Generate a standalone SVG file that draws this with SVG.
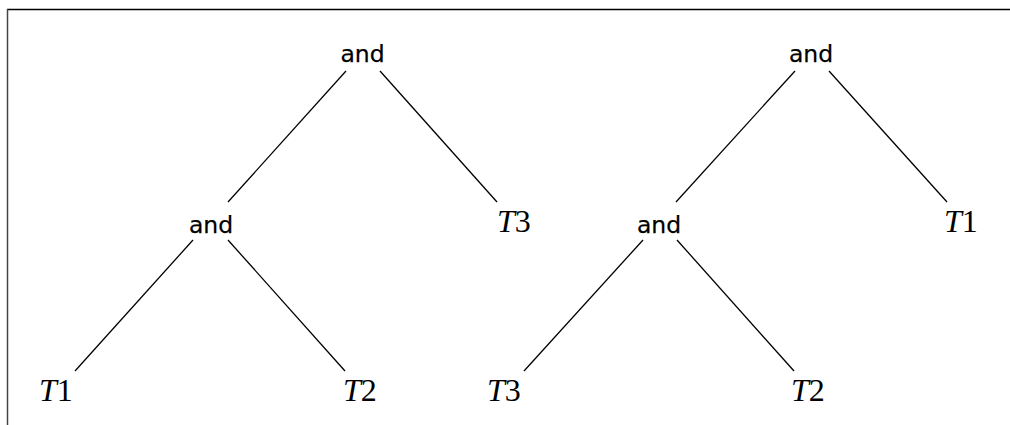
<svg xmlns="http://www.w3.org/2000/svg" width="1010" height="425" viewBox="0 0 1010 425">
<style>
.op{font-family:"DejaVu Sans","Liberation Sans",sans-serif;font-size:23.5px;text-anchor:middle;fill:#000;stroke:#000;stroke-width:0.25}
.leaf{font-family:"Liberation Serif","Times New Roman",serif;font-size:32px;fill:#000}
.edge{stroke:#000;stroke-width:1.3;fill:none}
</style>
<rect width="1010" height="425" fill="#fff"/>
<g id="frame">
<line x1="7" y1="9.5" x2="1010" y2="9.5" stroke="#000" stroke-width="1.5"/>
<line x1="7.5" y1="9" x2="7.5" y2="425" stroke="#444" stroke-width="1.5"/>
</g>
<g id="connectors">
<line class="edge" x1="346" y1="71" x2="228" y2="202"/>
<line class="edge" x1="380" y1="71" x2="497" y2="202"/>
<line class="edge" x1="193" y1="240" x2="75" y2="371"/>
<line class="edge" x1="228" y1="240" x2="345" y2="371"/>
<line class="edge" x1="795" y1="71" x2="676" y2="202"/>
<line class="edge" x1="829" y1="71" x2="947" y2="202"/>
<line class="edge" x1="643" y1="240" x2="524" y2="371"/>
<line class="edge" x1="677" y1="240" x2="794" y2="371"/>
</g>
<g id="and1"><text class="op" x="362.5" y="62">and</text></g>
<g id="and2"><text class="op" x="211" y="233">and</text></g>
<g id="T3a"><text class="leaf" x="497" y="232"><tspan font-style="italic">T</tspan>3</text></g>
<g id="T1a"><text class="leaf" x="39" y="401"><tspan font-style="italic">T</tspan>1</text></g>
<g id="T2a"><text class="leaf" x="343" y="401"><tspan font-style="italic">T</tspan>2</text></g>
<g id="and3"><text class="op" x="811" y="62">and</text></g>
<g id="and4"><text class="op" x="659" y="233">and</text></g>
<g id="T1b"><text class="leaf" x="944" y="232"><tspan font-style="italic">T</tspan>1</text></g>
<g id="T3b"><text class="leaf" x="487" y="401"><tspan font-style="italic">T</tspan>3</text></g>
<g id="T2b"><text class="leaf" x="791" y="401"><tspan font-style="italic">T</tspan>2</text></g>
</svg>
